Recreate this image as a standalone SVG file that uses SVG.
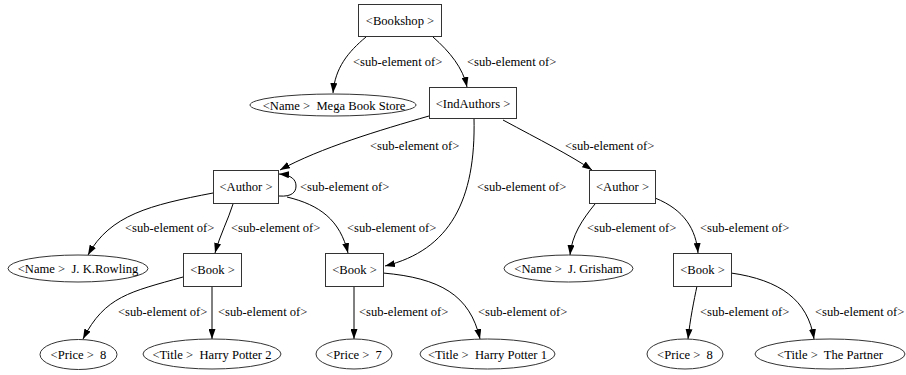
<svg xmlns="http://www.w3.org/2000/svg" width="906" height="375" viewBox="0 0 906 375">
<style>
.n rect,.n ellipse{fill:#fff;stroke:#333;stroke-width:1}
text{font-family:"Liberation Serif","Times New Roman",serif;font-size:12.6px;fill:#000}
.n text{text-anchor:middle}
.e path{fill:none;stroke:#000;stroke-width:1;marker-end:url(#ah)}
</style>
<defs>
<marker id="ah" viewBox="0 0 10 7" refX="10" refY="3.5" markerWidth="10" markerHeight="7" markerUnits="userSpaceOnUse" orient="auto">
<path d="M0,0 L10,3.5 L0,7 z" fill="#000"/>
</marker>
</defs>
<rect width="906" height="375" fill="#fff"/>
<g id="connectors" class="e">
<path d="M366,37 C348,52 335,68 333,93"/>
<path d="M433,37 C450,52 463,68 467,87"/>
<path d="M429,116 C380,130 320,148 280,170"/>
<path d="M474,118 C476,200 450,250 385,266"/>
<path d="M503,120 C540,140 570,155 592,170"/>
<path d="M279,196 C292,197 296,192 296,186 C296,180 292,175 279,174"/>
<path d="M213,193 C150,205 110,215 88,255"/>
<path d="M233,204 C228,220 220,235 215,253"/>
<path d="M287,197 C320,205 340,220 348,253"/>
<path d="M595,204 C582,220 572,235 570,255"/>
<path d="M655,198 C685,210 696,230 698,253"/>
<path d="M183,277 C130,292 105,296 83,339"/>
<path d="M212,286 L212,339"/>
<path d="M354,286 L354,339"/>
<path d="M383,273 C440,278 470,295 480,339"/>
<path d="M697,286 C694,300 690,320 688,339"/>
<path d="M731,273 C780,280 808,300 814,339"/>
</g>
<g id="edge-labels">
<text x="353" y="66">&lt;sub-element of&gt;</text>
<text x="467" y="66">&lt;sub-element of&gt;</text>
<text x="370" y="150">&lt;sub-element of&gt;</text>
<text x="565" y="150">&lt;sub-element of&gt;</text>
<text x="300" y="191">&lt;sub-element of&gt;</text>
<text x="477" y="191">&lt;sub-element of&gt;</text>
<text x="125" y="232">&lt;sub-element of&gt;</text>
<text x="231" y="232">&lt;sub-element of&gt;</text>
<text x="347" y="232">&lt;sub-element of&gt;</text>
<text x="587" y="232">&lt;sub-element of&gt;</text>
<text x="700" y="232">&lt;sub-element of&gt;</text>
<text x="118" y="316">&lt;sub-element of&gt;</text>
<text x="218" y="316">&lt;sub-element of&gt;</text>
<text x="359" y="316">&lt;sub-element of&gt;</text>
<text x="478" y="316">&lt;sub-element of&gt;</text>
<text x="700" y="316">&lt;sub-element of&gt;</text>
<text x="815" y="316">&lt;sub-element of&gt;</text>
</g>
<g id="bookshop" class="n"><rect x="358.5" y="4.5" width="83" height="32"/><text x="400" y="25">&lt;Bookshop &gt;</text></g>
<g id="name-mega" class="n"><ellipse cx="333" cy="105" rx="83" ry="11"/><text x="334" y="109.5">&lt;Name &gt;&#160; Mega Book Store</text></g>
<g id="indauthors" class="n"><rect x="429.5" y="87.5" width="87" height="31"/><text x="473" y="107.5">&lt;IndAuthors &gt;</text></g>
<g id="author-1" class="n"><rect x="213.5" y="170.5" width="65" height="33"/><text x="246" y="191">&lt;Author &gt;</text></g>
<g id="author-2" class="n"><rect x="589.5" y="170.5" width="66" height="33"/><text x="622.5" y="191">&lt;Author &gt;</text></g>
<g id="name-rowling" class="n"><ellipse cx="78" cy="268.5" rx="70" ry="13.5"/><text x="78" y="273">&lt;Name &gt;&#160; J. K.Rowling</text></g>
<g id="book-1" class="n"><rect x="183.5" y="253.5" width="58" height="33"/><text x="212.5" y="274">&lt;Book &gt;</text></g>
<g id="book-2" class="n"><rect x="325.5" y="253.5" width="58" height="33"/><text x="354.5" y="274">&lt;Book &gt;</text></g>
<g id="name-grisham" class="n"><ellipse cx="568.5" cy="268.5" rx="64.5" ry="13.5"/><text x="568.5" y="273">&lt;Name &gt;&#160; J. Grisham</text></g>
<g id="book-3" class="n"><rect x="673.5" y="253.5" width="58" height="33"/><text x="702.5" y="274">&lt;Book &gt;</text></g>
<g id="price-1" class="n"><ellipse cx="78.5" cy="354.5" rx="38.5" ry="15"/><text x="78.5" y="359">&lt;Price &gt;&#160; 8</text></g>
<g id="title-1" class="n"><ellipse cx="212" cy="354" rx="69" ry="15"/><text x="212" y="358.5">&lt;Title &gt;&#160; Harry Potter 2</text></g>
<g id="price-2" class="n"><ellipse cx="354" cy="354" rx="38" ry="15"/><text x="354" y="358.5">&lt;Price &gt;&#160; 7</text></g>
<g id="title-2" class="n"><ellipse cx="487.5" cy="354" rx="67.5" ry="15"/><text x="487.5" y="358.5">&lt;Title &gt;&#160; Harry Potter 1</text></g>
<g id="price-3" class="n"><ellipse cx="685" cy="354" rx="38" ry="15"/><text x="685" y="358.5">&lt;Price &gt;&#160; 8</text></g>
<g id="title-3" class="n"><ellipse cx="830" cy="354" rx="75" ry="15"/><text x="830" y="358.5">&lt;Title &gt;&#160; The Partner</text></g>
</svg>
